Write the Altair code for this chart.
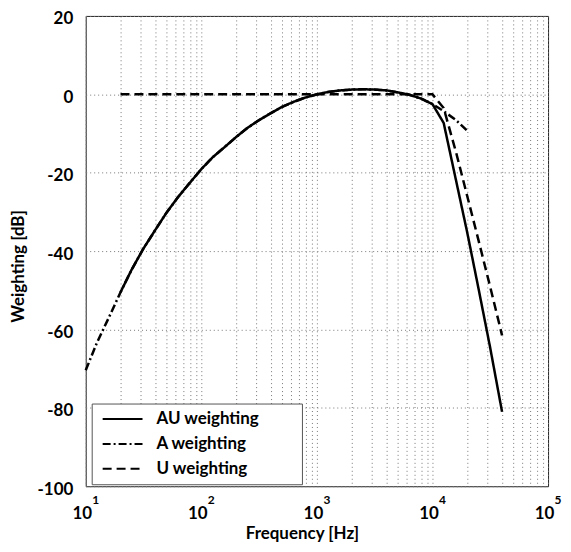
import altair as alt
import pandas as pd

# A weighting curve (dB), 10 Hz .. 20 kHz
a_freq = [10, 12.5, 16, 20, 25, 31.5, 40, 50, 63, 80, 100, 125, 160, 200, 250,
          315, 400, 500, 630, 800, 1000, 1250, 1600, 2000, 2500, 3150, 4000,
          5000, 6300, 8000, 10000, 12500, 16000, 20000]
a_db = [-70.4, -63.4, -56.7, -50.5, -44.7, -39.4, -34.6, -30.2, -26.2, -22.5,
        -19.1, -16.1, -13.4, -10.9, -8.6, -6.6, -4.8, -3.2, -1.9, -0.8, 0.0,
        0.6, 1.0, 1.2, 1.3, 1.2, 1.0, 0.5, -0.1, -1.1, -2.5, -4.3, -6.6, -9.3]

# U weighting curve (dB), 20 Hz .. 40 kHz
u_freq = [20, 10000, 12500, 16000, 20000, 25000, 31500, 40000]
u_db = [0.0, 0.0, -3.5, -14.8, -26.0, -37.2, -49.0, -61.5]

# AU weighting curve (dB), 20 Hz .. 40 kHz
au_freq = [20, 25, 31.5, 40, 50, 63, 80, 100, 125, 160, 200, 250, 315, 400,
           500, 630, 800, 1000, 1250, 1600, 2000, 2500, 3150, 4000, 5000, 6300,
           8000, 10000, 12500, 16000, 20000, 25000, 31500, 40000]
au_db = [-50.5, -44.7, -39.4, -34.6, -30.2, -26.2, -22.5, -19.1, -16.1, -13.4,
         -10.9, -8.6, -6.6, -4.8, -3.2, -1.9, -0.8, 0.0, 0.6, 1.0, 1.2, 1.3,
         1.2, 1.0, 0.5, -0.1, -1.1, -2.5, -7.3, -22.0, -35.3, -49.5, -64.5, -81.0]

series_names = ["AU weighting", "A weighting", "U weighting"]
series_dash = [[1, 0], [8, 3, 2, 3], [9, 5]]

# axis tick values
x_grid_vals = [10, 20, 30, 40, 50, 60, 70, 80, 90,
               100, 200, 300, 400, 500, 600, 700, 800, 900,
               1000, 2000, 3000, 4000, 5000, 6000, 7000, 8000, 9000,
               10000, 20000, 30000, 40000, 50000, 60000, 70000, 80000, 90000,
               100000]
x_major = [10, 100, 1000, 10000, 100000]
x_exps = ["1", "2", "3", "4", "5"]
y_ticks = [-100, -80, -60, -40, -20, 0, 20]

rows = []
for f, v in zip(a_freq, a_db):
    rows.append({"freq": f, "db": v, "series": "A weighting"})
for f, v in zip(au_freq, au_db):
    rows.append({"freq": f, "db": v, "series": "AU weighting"})
for f, v in zip(u_freq, u_db):
    rows.append({"freq": f, "db": v, "series": "U weighting"})
df = pd.DataFrame(rows)

FONT = "Lato"
W, H = 464, 472

xscale = alt.Scale(type="log", domain=[10, 100000], nice=False)
yscale = alt.Scale(domain=[-100, 20], nice=False)

pad = "\u2800" * 3
lines = alt.Chart(df).mark_line(color="black", strokeWidth=2.5).encode(
    x=alt.X("freq:Q", scale=xscale, axis=alt.Axis(
        values=x_grid_vals, grid=True, gridDash=[1, 3], gridColor="#777",
        ticks=False, domain=False, labelOverlap=False, labelFlush=False,
        labelExpr="(datum.value == 10 || datum.value == 100 || datum.value == 1000 || datum.value == 10000 || datum.value == 100000) ? '10' : ''",
        labelFont=FONT, labelFontSize=17, labelFontWeight="bold", labelColor="black",
        labelPadding=19, labelOffset=-4, labelBaseline="top",
        title="Frequency [Hz]", titleFont=FONT, titleFontSize=17, titleFontWeight="bold",
        titleColor="black", titleX=217, titleY=52, titleAlign="center",
        titleBaseline="alphabetic")),
    y=alt.Y("db:Q", scale=yscale, axis=alt.Axis(
        values=y_ticks, grid=True, gridDash=[1, 3], gridColor="#777",
        ticks=False, domain=False, labelOverlap=False, labelFlush=False,
        labelExpr="toString(datum.value)",
        labelFont=FONT, labelFontSize=17, labelFontWeight="bold", labelColor="black",
        labelPadding=13, labelOffset=3,
        title="Weighting [dB]", titleFont=FONT, titleFontSize=17, titleFontWeight="bold",
        titleColor="black", titleX=-62, titleY=251, titleAngle=270, titleAlign="center",
        titleBaseline="alphabetic")),
    strokeDash=alt.StrokeDash("series:N", scale=alt.Scale(domain=series_names, range=series_dash),
        legend=alt.Legend(title=None, orient="none", legendX=6, legendY=389,
            symbolType="stroke", symbolSize=1600, symbolStrokeWidth=2,
            symbolStrokeColor="black", clipHeight=19, rowPadding=6, padding=6,
            symbolOffset=4, labelOffset=13, labelFont=FONT, labelFontSize=17,
            labelFontWeight="bold", labelColor="black", strokeColor="#555",
            fillColor="white", labelLimit=400, labelExpr="datum.label + '" + pad + "'")),
)

exp_df = pd.DataFrame({"freq": x_major, "exp": x_exps})
exps = alt.Chart(exp_df).mark_text(font=FONT, fontSize=12, fontWeight="bold",
                                   baseline="top", align="center", dx=10, color="black").encode(
    x=alt.X("freq:Q", scale=xscale),
    y=alt.value(H + 9),
    text="exp:N",
)

chart = alt.layer(lines, exps).properties(
    width=W, height=H,
    autosize=alt.AutoSizeParams(type="none"),
    padding={"left": 78, "top": 7, "right": 15, "bottom": 56},
).configure_view(stroke="#222", strokeWidth=1)

chart.save("out.html", embed_options={"renderer": "svg", "actions": False})
